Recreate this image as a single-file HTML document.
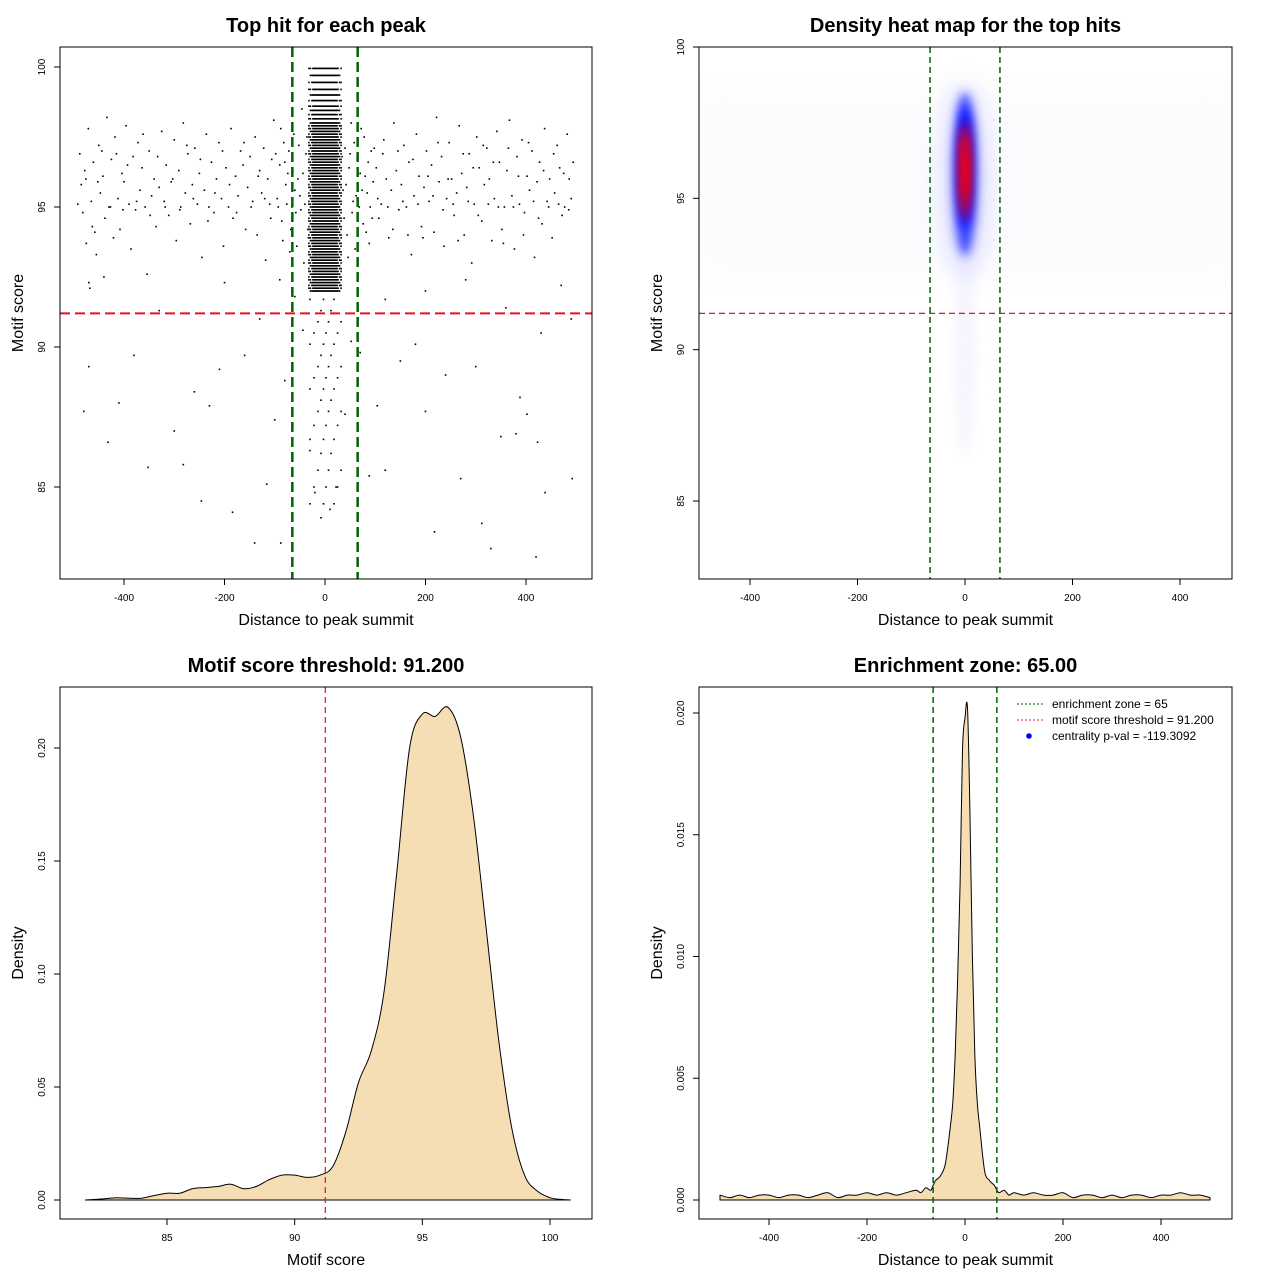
<!DOCTYPE html>
<html><head><meta charset="utf-8"><style>
body{margin:0;background:#fff}
svg{display:block;font-family:"Liberation Sans",sans-serif}
</style></head><body>
<svg id="c" width="1280" height="1280" xmlns="http://www.w3.org/2000/svg">
<defs>
<filter id="blur6" x="-100%" y="-100%" width="300%" height="300%"><feGaussianBlur stdDeviation="5"/></filter>
<filter id="blur12" x="-100%" y="-100%" width="300%" height="300%"><feGaussianBlur stdDeviation="12"/></filter>
<clipPath id="clip2"><rect x="699" y="47" width="533" height="532"/></clipPath>
</defs>
</svg>
<script>
// ---------- data ----------
const scatterOuter = [
[-488,96.9],[-485,95.8],[-482,94.8],[-478,96.3],[-475,93.7],[-471,97.8],[-468,92.1],[-465,95.2],[-461,96.6],[-458,94.1],[-455,93.3],[-450,97.2],[-447,95.5],[-442,96.1],[-438,94.6],[-434,98.2],[-430,95.0],[-425,96.7],[-421,93.9],[-418,97.5],[-412,95.3],[-408,94.2],[-404,96.2],[-400,95.9],[-396,97.9],[-390,95.1],[-386,93.5],[-382,96.8],[-377,94.9],[-372,97.3],[-368,95.6],[-364,96.4],[-358,95.0],[-354,92.6],[-350,97.0],[-345,95.4],[-340,96.0],[-336,94.3],[-330,95.7],[-325,97.7],[-320,95.2],[-316,96.5],[-311,94.7],[-306,95.9],[-300,97.4],[-296,93.8],[-291,96.3],[-287,95.0],[-282,98.0],[-278,95.5],[-273,96.9],[-268,94.4],[-264,95.8],[-259,97.1],[-254,95.1],[-250,96.2],[-245,93.2],[-240,95.6],[-236,97.6],[-231,95.0],[-226,96.6],[-221,94.8],[-216,96.0],[-211,97.3],[-206,95.3],[-202,93.6],[-197,96.4],[-192,95.0],[-187,97.8],[-183,94.6],[-178,96.1],[-173,95.4],[-168,97.0],[-163,96.5],[-158,94.2],[-154,95.7],[-149,96.8],[-144,95.2],[-139,97.5],[-135,94.0],[-130,96.3],[-126,95.5],[-122,97.1],[-118,93.1],[-114,96.0],[-110,95.1],[-106,96.7],[-102,98.1],
[-95,95.3],[-90,96.5],[-86,94.5],[-82,97.3],[-78,95.8],[-74,96.2],[-70,93.4],[-66,95.0],[-62,97.6],[-58,94.8],[-54,96.0],[-50,95.4],[-46,98.5],[-42,93.0],[-38,96.9],[-34,94.2],
[36,95.6],[40,97.1],[44,94.0],[48,96.4],[52,98.0],[56,95.2],[60,93.5],[64,96.7],[68,95.0],[72,97.8],[76,94.4],[80,96.1],[84,95.5],[88,93.7],[92,97.0],[96,95.9],
[102,96.4],[107,94.6],[112,95.1],[117,97.4],[122,96.0],[127,93.9],[132,95.6],[137,98.0],[142,96.3],[147,94.9],[152,95.8],[157,97.2],[162,95.0],[167,96.6],[172,93.3],[177,95.4],[182,97.6],[187,96.1],[192,94.3],[197,95.7],[202,97.0],[207,95.2],[212,96.5],[217,94.1],[222,98.2],[227,95.9],[232,96.8],[237,93.6],[242,95.3],[247,97.3],[252,96.0],[257,94.7],[262,95.5],[267,97.9],[272,96.2],[277,94.0],[282,95.7],[287,96.9],[292,93.0],[297,95.1],[302,97.5],[307,96.4],[312,94.5],[317,95.8],[322,97.1],[327,96.0],[332,93.8],[337,95.3],[342,97.7],[347,96.6],[352,94.2],[357,95.0],[362,96.3],[367,98.1],[372,95.4],[377,93.5],[382,96.8],[387,95.1],[392,97.4],[397,94.8],[402,96.1],[407,95.6],[412,97.0],[417,93.2],[422,95.9],[427,96.6],[432,94.4],[437,97.8],[442,95.2],[447,96.0],[452,93.9],[457,95.5],[462,97.2],[467,96.4],[472,94.7],[477,95.0],[482,97.6],[486,96.0],[490,95.3],
[-470,89.3],[-480,87.7],[-432,86.6],[-410,88.0],[-380,89.7],[-352,85.7],[-300,87.0],[-282,85.8],[-260,88.4],[-246,84.5],[-230,87.9],[-210,89.2],[-184,84.1],[-160,89.7],[-140,83.0],[-116,85.1],[-100,87.4],[-88,83.0],[-80,88.8],[-64,87.2],[-44,90.6],[-30,86.3],
[40,87.6],[52,90.2],[70,89.8],[88,85.4],[104,87.9],[120,85.6],[150,89.5],[180,90.1],[200,87.7],[218,83.4],[240,89.0],[270,85.3],[300,89.3],[312,83.7],[330,82.8],[350,86.8],[380,86.9],[388,88.2],[402,87.6],[420,82.5],[423,86.6],[438,84.8],[492,85.3],[-20,84.8],[-8,83.9],[10,84.2],[22,85.0],
[-60,91.8],[-90,92.4],[-130,91.0],[-200,92.3],[-330,91.3],[-440,92.5],[120,91.7],[200,92.0],[280,92.4],[360,91.4],[430,90.5],[490,91.0],[-470,92.3],[470,92.2]
];
const scatterOuter2 = [
[-492,95.1],[-476,96.0],[-463,94.3],[-452,95.9],[-444,97.0],[-427,95.0],[-415,96.9],[-402,94.9],[-393,96.5],[-375,95.2],[-362,97.6],[-348,94.7],[-333,96.8],[-318,95.0],[-303,96.0],[-289,94.9],[-275,97.2],[-262,95.3],[-248,96.7],[-233,94.5],[-219,95.5],[-204,97.0],[-190,95.8],[-176,94.8],[-161,97.3],[-147,95.0],[-133,96.1],[-120,95.3],[-108,94.6],[-98,96.9],[-93,95.0],[-88,97.8],[-84,93.8],[-80,96.6],[-76,95.1],[-72,97.0],[-68,94.2],[-64,96.3],[-60,95.6],[-56,93.6],[-52,97.2],[-48,94.9],[-44,96.2],[-40,95.1],[-36,97.5],[-33,93.9],
[34,96.8],[38,94.6],[42,95.8],[46,93.2],[50,96.9],[54,94.8],[58,97.3],[62,95.4],[66,94.0],[70,96.2],[74,95.6],[78,97.5],[82,94.1],[86,96.6],[90,95.0],[94,94.6],[98,97.1],
[105,95.3],[115,96.9],[125,95.0],[135,94.2],[145,97.0],[155,95.2],[165,94.0],[175,96.7],[185,95.1],[195,93.9],[205,96.1],[215,95.4],[225,97.3],[235,94.9],[245,96.0],[255,95.1],[265,93.8],[275,96.9],[285,95.2],[295,96.4],[305,94.7],[315,97.2],[325,95.1],[335,96.6],[345,95.0],[355,93.7],[365,97.1],[375,95.0],[385,96.1],[395,94.0],[405,97.3],[415,95.2],[425,94.6],[435,96.3],[445,95.0],[455,96.9],[465,95.1],[475,96.2],[485,94.9],[494,96.6]
];
const coreX = [-32,-29,-26,-24,-22,-20,-18,-16,-14,-12,-10,-8,-6,-4,-2,0,2,4,6,8,10,12,14,16,18,20,22,24,26,29,32];
const coreY = [92.0,92.1,92.2,92.3,92.4,92.5,92.6,92.7,92.8,92.9,93.0,93.1,93.2,93.3,93.4,93.5,93.6,93.7,93.8,93.9,94.0,94.1,94.2,94.3,94.4,94.5,94.6,94.7,94.8,94.9,95.0,95.1,95.2,95.3,95.4,95.5,95.6,95.7,95.8,95.9,96.0,96.1,96.2,96.3,96.4,96.5,96.6,96.7,96.8,96.9,97.0,97.1,97.2,97.3,97.4,97.5,97.6,97.7,97.8,97.9,98.0,98.15,98.3,98.45,98.6,98.8,99.0,99.2,99.45,99.7,99.95];
const tailX = [-30,-22,-14,-8,-3,2,7,12,18,25,32];
const tailY = [91.7,91.3,90.9,90.5,90.1,89.7,89.3,88.9,88.5,88.1,87.7,87.2,86.7,86.2,85.6,85.0,84.4];

// heatmap blobs: [distance, score, sdX(units), sdY(score), colour, opacity]
const heatBlobs = [
[0,95.6,45,3.2,"#8080ff",0.25],
[0,90.0,20,3.5,"#d8d8ff",0.25],
[0,95.8,22,2.7,"#2030ff",0.9],
[0,96.0,13,2.0,"#0000ff",1],
[0,95.9,10,1.6,"#ff0000",1],
[0,96.0,6,1.1,"#ff0000",1]
];

const scoreGrid = [81.8,82.5,83,83.5,84,84.5,85,85.5,86,86.5,87,87.5,88,88.5,89,89.5,90,90.5,91,91.5,92,92.5,93,93.5,94,94.5,95,95.5,96,96.5,97,97.5,98,98.5,99,99.5,100,100.4,100.8];
const scoreDens = [0,0.0005,0.001,0.0008,0.0008,0.002,0.003,0.003,0.005,0.0055,0.006,0.007,0.005,0.006,0.009,0.011,0.011,0.010,0.011,0.015,0.030,0.052,0.066,0.092,0.145,0.200,0.215,0.214,0.218,0.205,0.170,0.120,0.070,0.032,0.011,0.004,0.001,0.0003,0];

const distGrid = [-500,-480,-460,-440,-420,-400,-380,-360,-340,-320,-300,-280,-260,-240,-220,-200,-180,-160,-140,-120,-100,-90,-80,-70,-65,-60,-50,-40,-30,-25,-20,-15,-10,-5,0,5,10,15,20,25,30,40,50,60,65,70,80,90,100,120,140,160,180,200,220,240,260,280,300,320,340,360,380,400,420,440,460,480,500];
const distDens = [0.0002,0.0001,0.0002,0.0001,0.0002,0.0002,0.0001,0.0002,0.0002,0.0001,0.0002,0.0003,0.0001,0.0002,0.0002,0.0003,0.0002,0.0003,0.0002,0.0003,0.0004,0.0003,0.0005,0.0004,0.0006,0.0008,0.0010,0.0015,0.0030,0.0040,0.0060,0.0090,0.0130,0.0185,0.0198,0.0202,0.0160,0.0100,0.0060,0.0040,0.0030,0.0012,0.0008,0.0006,0.0004,0.0003,0.0004,0.0002,0.0003,0.0002,0.0003,0.0002,0.0002,0.0003,0.0001,0.0002,0.0002,0.0001,0.0002,0.0001,0.0002,0.0002,0.0001,0.0002,0.0002,0.0003,0.0002,0.0002,0.0001];

const xTicksDist = [-400,-200,0,200,400];
const yTicksScore = [85,90,95,100];
const xTicksScore = [85,90,95,100];
const yTicksD3 = [0,0.05,0.10,0.15,0.20];
const yTicksD3Lab = ["0.00","0.05","0.10","0.15","0.20"];
const yTicksD4 = [0,0.005,0.010,0.015,0.020];
const yTicksD4Lab = ["0.000","0.005","0.010","0.015","0.020"];

// ---------- helpers ----------
const svg = document.getElementById('c');
const NS = "http://www.w3.org/2000/svg";
function mk(tag, attrs, parent){const e=document.createElementNS(NS,tag);for(const k in attrs)e.setAttribute(k,attrs[k]);(parent||svg).appendChild(e);return e;}
function lin(d0,d1,r0,r1){return v=>r0+(v-d0)*(r1-r0)/(d1-d0);}
function txt(x,y,s,size,opts){const t=mk('text',Object.assign({x:x,y:y,'font-size':size,'text-anchor':'middle',fill:'#000'},opts||{}));t.textContent=s;return t;}
function smoothPath(P){
  let d=`M${P[0][0].toFixed(1)},${P[0][1].toFixed(1)}`;
  for(let i=0;i<P.length-1;i++){
    const p0=P[Math.max(0,i-1)],p1=P[i],p2=P[i+1],p3=P[Math.min(P.length-1,i+2)];
    const c1=[p1[0]+(p2[0]-p0[0])/6,p1[1]+(p2[1]-p0[1])/6];
    const c2=[p2[0]-(p3[0]-p1[0])/6,p2[1]-(p3[1]-p1[1])/6];
    d+=` C${c1[0].toFixed(1)},${c1[1].toFixed(1)} ${c2[0].toFixed(1)},${c2[1].toFixed(1)} ${p2[0].toFixed(1)},${p2[1].toFixed(1)}`;
  }
  return d;
}

function axes(p, g){
  const box = mk('rect',{x:p.x0,y:p.y0,width:p.x1-p.x0,height:p.y1-p.y0,fill:'none',stroke:'#000','stroke-width':1},g);
  
  
  const xa = mk('g',{},g);
  
  
  p.xt.forEach((v,i)=>{const X=p.sx(v);mk('line',{x1:X,x2:X,y1:p.y1,y2:p.y1+6,stroke:'#000'},xa);
    const t=txt(X,p.y1+22,p.xl?p.xl[i]:String(v),10,{},xa);xa.appendChild(t);});
  const ya = mk('g',{},g);
  
  
  p.yt.forEach((v,i)=>{const Y=p.sy(v);mk('line',{x1:p.x0-6,x2:p.x0,y1:Y,y2:Y,stroke:'#000'},ya);
    const t=txt(0,0,p.yl?p.yl[i]:String(v),10,{transform:`translate(${p.x0-15},${Y}) rotate(-90)`});ya.appendChild(t);});
  const xt=txt((p.x0+p.x1)/2,p.y1+46,p.xTitle,16);g.appendChild(xt);
  
  
  const yt=txt(0,0,p.yTitle,16,{transform:`translate(${p.x0-37},${(p.y0+p.y1)/2}) rotate(-90)`});g.appendChild(yt);
  
  
  const tt=txt((p.x0+p.x1)/2,p.y0-15,p.title,20,{'font-weight':'bold'});g.appendChild(tt);
  
  
}
function group(name){const g=mk('g',{});return g;}

// ---------- panel 1: scatter ----------
(function(){
  const g=group('scatter-panel');
  const sx=lin(0,400,325,526), sy=lin(100,85,67,487);
  const pts=mk('g',{fill:'#000'},g);
  
  
  scatterOuter.concat(scatterOuter2).forEach(p=>{mk('rect',{x:sx(p[0])-0.8,y:sy(p[1])-0.8,width:1.6,height:1.6},pts);});
  coreX.forEach((x,i)=>coreY.forEach((y,j)=>{
    if(Math.abs(x)>24 && (i+j)%3===0) return;
    mk('rect',{x:sx(x)-0.8,y:sy(y)-0.8,width:1.6,height:1.6},pts);}));
  tailX.forEach((x,i)=>tailY.forEach((y,j)=>{ if((i*7+j*3)%4===0) mk('rect',{x:sx(x)-0.8,y:sy(y)-0.8,width:1.6,height:1.6},pts);}));
  const h=mk('line',{x1:60,x2:592,y1:sy(91.2),y2:sy(91.2),stroke:'#e8141c','stroke-width':2,'stroke-dasharray':'10,5'},g);
  
  [-65,65].forEach(v=>{const l=mk('line',{x1:sx(v),x2:sx(v),y1:47,y2:579,stroke:'#006400','stroke-width':2.5,'stroke-dasharray':'10,5'},g);
    });
  axes({x0:60,x1:592,y0:47,y1:579,sx:sx,sy:sy,xt:xTicksDist,yt:yTicksScore,xTitle:'Distance to peak summit',yTitle:'Motif score',title:'Top hit for each peak'},g);
})();

// ---------- panel 2: heat map ----------
(function(){
  const g=group('heatmap-panel');
  const sx=lin(0,400,965,1180), sy=lin(100,85,47,501);
  const hg=mk('g',{'clip-path':'url(#clip2)'},g);
  
  mk('rect',{x:699,y:sy(98.5),width:533,height:sy(92.5)-sy(98.5),fill:'#f4f4ff',opacity:0.25,filter:'url(#blur12)'},hg);
  heatBlobs.forEach(b=>{
    const rx=Math.abs(sx(b[2])-sx(0)), ry=Math.abs(sy(b[1]+b[3])-sy(b[1]));
    mk('ellipse',{cx:sx(b[0]),cy:sy(b[1]),rx:rx,ry:ry,fill:b[4],opacity:b[5],filter:rx>15?'url(#blur12)':'url(#blur6)'},hg);
  });
  const h=mk('line',{x1:699,x2:1232,y1:sy(91.2),y2:sy(91.2),stroke:'#e8141c','stroke-width':1.2,'stroke-dasharray':'6,4'},g);
  
  [-65,65].forEach(v=>{const l=mk('line',{x1:sx(v),x2:sx(v),y1:47,y2:579,stroke:'#006400','stroke-width':1.5,'stroke-dasharray':'6,4'},g);
    });
  axes({x0:699,x1:1232,y0:47,y1:579,sx:sx,sy:sy,xt:xTicksDist,yt:yTicksScore,xTitle:'Distance to peak summit',yTitle:'Motif score',title:'Density heat map for the top hits'},g);
})();

// ---------- panel 3: score density ----------
(function(){
  const g=group('score-density-panel');
  const sx=lin(85,100,167,550), sy=lin(0,0.2,1200,748);
  const P=scoreGrid.map((v,i)=>[sx(v),sy(scoreDens[i])]);
  const d=smoothPath(P)+` Z`;
  const a=mk('path',{d:d,fill:'#f5deb3',stroke:'#000','stroke-width':1,'stroke-linejoin':'round'},g);
  
  const l=mk('line',{x1:sx(91.2),x2:sx(91.2),y1:687,y2:1219,stroke:'#e8141c','stroke-width':1.2,'stroke-dasharray':'6,4'},g);
  
  axes({x0:60,x1:592,y0:687,y1:1219,sx:sx,sy:sy,xt:xTicksScore,yt:yTicksD3,yl:yTicksD3Lab,xTitle:'Motif score',yTitle:'Density',title:'Motif score threshold: 91.200'},g);
})();

// ---------- panel 4: distance density ----------
(function(){
  const g=group('distance-density-panel');
  const sx=lin(0,400,965,1161), sy=lin(0,0.02,1200,713);
  const P=distGrid.map((v,i)=>[sx(v),sy(distDens[i])]);
  const d=smoothPath(P)+` L${sx(distGrid[distGrid.length-1])},${sy(0)} L${sx(distGrid[0])},${sy(0)} Z`;
  const a=mk('path',{d:d,fill:'#f5deb3',stroke:'#000','stroke-width':1,'stroke-linejoin':'round'},g);
  
  [-65,65].forEach(v=>{const l=mk('line',{x1:sx(v),x2:sx(v),y1:687,y2:1219,stroke:'#006400','stroke-width':1.5,'stroke-dasharray':'6,4'},g);
    });
  axes({x0:699,x1:1232,y0:687,y1:1219,sx:sx,sy:sy,xt:xTicksDist,yt:yTicksD4,yl:yTicksD4Lab,xTitle:'Distance to peak summit',yTitle:'Density',title:'Enrichment zone: 65.00'},g);
  const lg=mk('g',{},g);
  
  const rows=[['enrichment zone = 65','#006400','line'],['motif score threshold = 91.200','#e8141c','line'],['centrality p-val = -119.3092','#0000ff','dot']];
  rows.forEach((r,i)=>{const y=704+i*16;
    const e=mk('g',{},lg);
    
    if(r[2]==='line') mk('line',{x1:1017,x2:1043,y1:y,y2:y,stroke:r[1],'stroke-width':1,'stroke-dasharray':'2,2'},e);
    else mk('circle',{cx:1029,cy:y,r:2.8,fill:r[1]},e);
    const t=txt(1052,y+4,r[0],12,{'text-anchor':'start'});e.appendChild(t);});
})();
</script>
</body></html>
